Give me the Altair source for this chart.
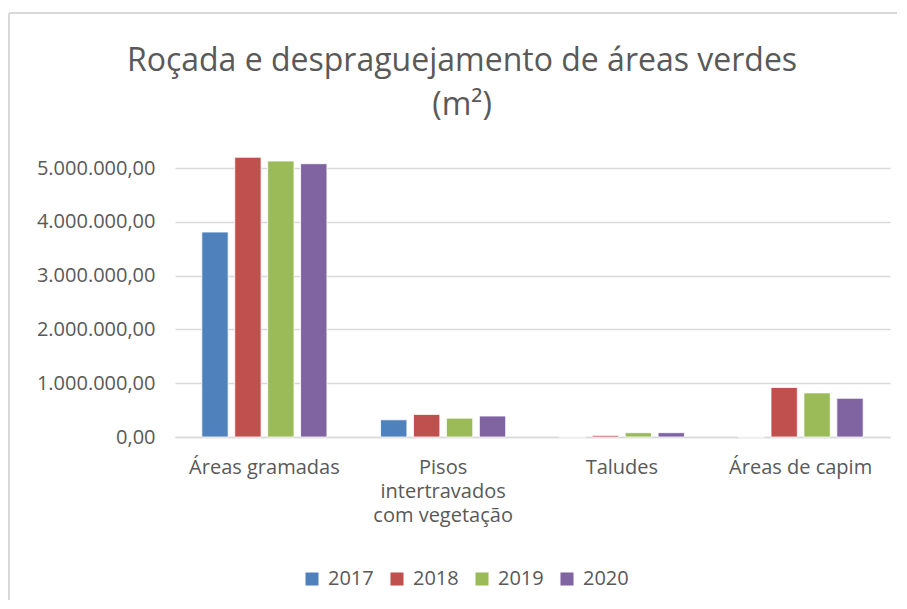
import altair as alt
import pandas as pd

categories = ["Áreas gramadas", "Pisos|intertravados|com vegetação", "Taludes", "Áreas de capim"]
years = ["2017", "2018", "2019", "2020"]
values = {
    "2017": [3810000, 320000, 0, 0],
    "2018": [5200000, 420000, 30000, 920000],
    "2019": [5130000, 350000, 80000, 820000],
    "2020": [5080000, 390000, 80000, 720000],
}
colors = ["#4F81BD", "#C0504D", "#9BBB59", "#8064A2"]

rows = []
for y in years:
    for c, v in zip(categories, values[y]):
        rows.append({"cat": c, "year": y, "value": v})
df = pd.DataFrame(rows)

font = "Open Sans"
grey = "#595959"

bars = alt.Chart(df).mark_bar(stroke="white", strokeWidth=0.8).encode(
    x=alt.X("cat:N", sort=categories, scale=alt.Scale(paddingInner=0.3, paddingOuter=0.15),
            axis=alt.Axis(title=None, labelAngle=0, labelFont=font, labelFontSize=20,
                          labelColor=grey, labelExpr="split(datum.label, '|')",
                          labelLineHeight=24, ticks=False, domainColor="#d9d9d9",
                          domainWidth=1.5, labelPadding=20, labelLimit=300)),
    xOffset=alt.XOffset("year:N", sort=years, scale=alt.Scale(paddingInner=0.2)),
    y=alt.Y("value:Q", scale=alt.Scale(domain=[0, 5000000]),
            axis=alt.Axis(title=None, values=[0, 1000000, 2000000, 3000000, 4000000, 5000000],
                          labelExpr="replace(replace(replace(format(datum.value, ',.2f'), /,/g, '_'), '.', ','), /_/g, '.')",
                          labelFont=font, labelFontSize=20, labelColor=grey,
                          domain=False, ticks=False, gridColor="#d9d9d9", gridWidth=1.5,
                          labelPadding=20)),
    color=alt.Color("year:N", sort=years, scale=alt.Scale(domain=years, range=colors),
                    legend=alt.Legend(title=None, orient="none", legendX=127, legendY=401,
                                      direction="horizontal",
                                      labelFont=font, labelFontSize=20, labelColor=grey,
                                      symbolType="square", symbolSize=170, symbolStrokeWidth=0,
                                      columnPadding=13, labelOffset=6)),
)

frame_df = pd.DataFrame({"k": [0]})
frame_top = alt.Chart(frame_df).mark_rule(color="#d9d9d9", strokeWidth=2).encode(
    x=alt.value(-166), x2=alt.value(722), y=alt.value(-155))
frame_left = alt.Chart(frame_df).mark_rule(color="#d9d9d9", strokeWidth=2).encode(
    x=alt.value(-166), y=alt.value(-155), y2=alt.value(432))

chart = alt.layer(frame_top, frame_left, bars).properties(
    width=715, height=269,
    title=alt.TitleParams(["Roçada e despraguejamento de áreas verdes", "(m²)"],
                          font=font, fontSize=32, fontWeight="normal", color=grey,
                          anchor="middle", frame="bounds", dx=9, lineHeight=44, offset=-110),
).configure(padding={"left": 0, "top": 4, "right": 0, "bottom": 0}).configure_view(stroke=None)

chart.save("out.html", embed_options={"renderer": "svg", "actions": False})
